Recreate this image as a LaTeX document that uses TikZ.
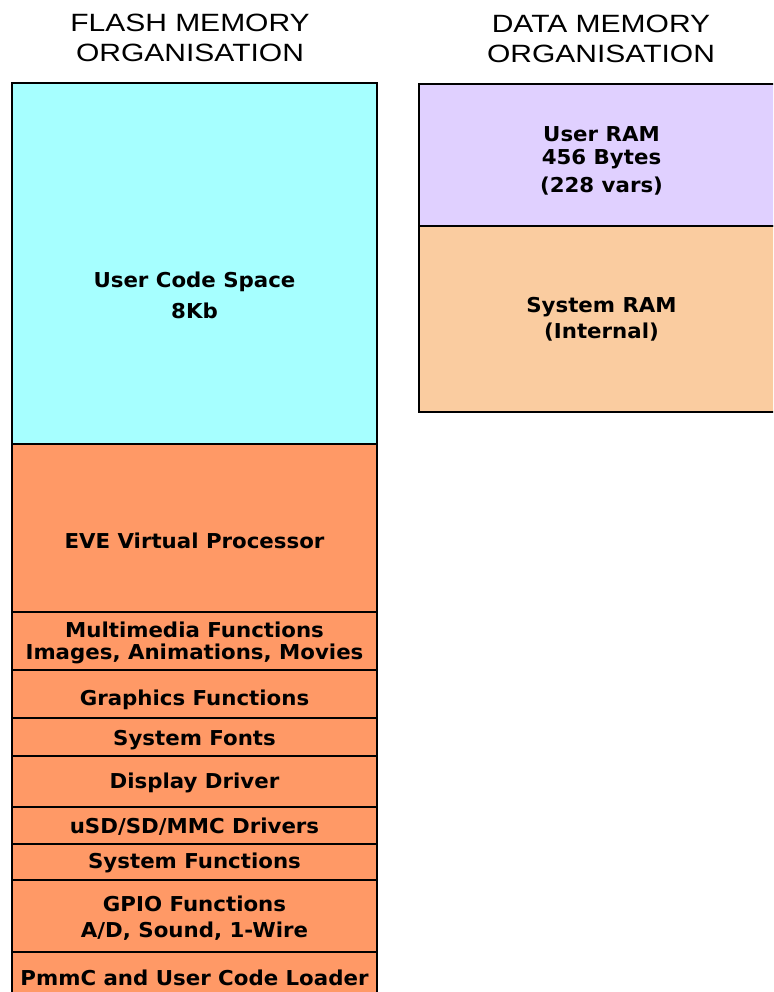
\documentclass[tikz,border=0pt]{standalone}
\usepackage{fontspec}
\usepackage{tikz}
\usepackage{xcolor}
\newfontfamily\headfont[FakeStretch=1.2]{Liberation Sans}
\newfontfamily\cellfont[FakeStretch=1.04]{DejaVu Sans}
\definecolor{codecyan}{HTML}{A6FFFF}
\definecolor{sysorange}{HTML}{FF9966}
\definecolor{userlilac}{HTML}{E0D0FF}
\definecolor{rampeach}{HTML}{FACCA0}

\begin{document}
\begin{tikzpicture}[x=1pt,y=-1pt,
	head/.style={font=\headfont\fontsize{25}{25}\selectfont,anchor=base,inner sep=0pt},
	cell/.style={font=\cellfont\bfseries\fontsize{20.5}{20.5}\selectfont,anchor=base,inner sep=0pt},
	seg/.style={draw=black,line width=2.8pt}]
	\useasboundingbox (0,0) rectangle (773,992);
	\clip (0,0) rectangle (773,992);
	\fill[white] (0,0) rectangle (773,992);
	\foreach \t/\b/\c in {83/444/codecyan,444/612/sysorange,612/670/sysorange,670/718/sysorange,718/756/sysorange,756/807/sysorange,807/844/sysorange,844/880/sysorange,880/952/sysorange,952/1010/sysorange}
		\draw[seg,fill=\c] (12,\t) rectangle (377,\b);
	\draw[seg,fill=userlilac] (419,84) rectangle (784,226);
	\draw[seg,fill=rampeach] (419,226) rectangle (784,412);
	\node[head] (flash1) at (190,32) {FLASH MEMORY};
	\node[head] (flash2) at (190,62) {ORGANISATION};
	\node[head] (data1) at (601,33) {DATA MEMORY};
	\node[head] (data2) at (601,63) {ORGANISATION};
	\node[cell] (ucs1) at (194.5,287) {User Code Space};
	\node[cell] (ucs2) at (194.5,318) {8Kb};
	\node[cell] (eve) at (194.5,548) {EVE Virtual Processor};
	\node[cell] (mm1) at (194.5,637) {Multimedia Functions};
	\node[cell] (mm2) at (194.5,659) {Images, Animations, Movies};
	\node[cell] (gfx) at (194.5,705) {Graphics Functions};
	\node[cell] (fonts) at (194.5,745) {System Fonts};
	\node[cell] (disp) at (194.5,788) {Display Driver};
	\node[cell] (usd) at (194.5,833) {uSD/SD/MMC Drivers};
	\node[cell] (sysf) at (194.5,868) {System Functions};
	\node[cell] (gpio1) at (194.5,911) {GPIO Functions};
	\node[cell] (gpio2) at (194.5,937) {A/D, Sound, 1-Wire};
	\node[cell] (pmmc) at (194.5,985) {PmmC and User Code Loader};
	\node[cell] (uram1) at (601.5,142) {User RAM};
	\node[cell] (uram2) at (601.5,165) {456 Bytes};
	\node[cell] (uram3) at (601.5,193) {(228 vars)};
	\node[cell] (sram1) at (601.5,312) {System RAM};
	\node[cell] (sram2) at (601.5,338) {(Internal)};
\end{tikzpicture}
\end{document}
